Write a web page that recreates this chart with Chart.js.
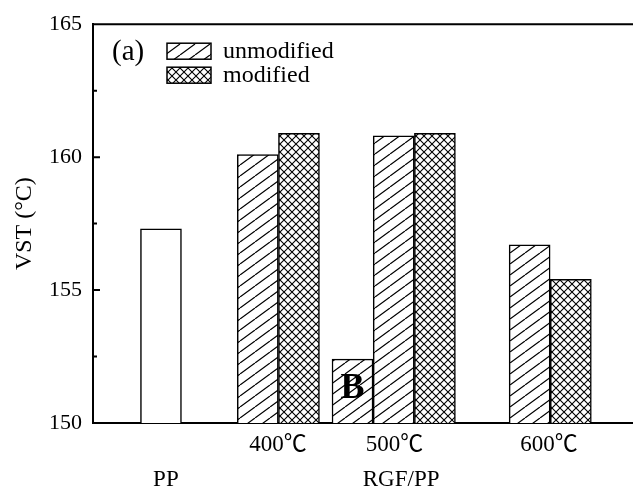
<!DOCTYPE html>
<html>
<head>
<meta charset="utf-8">
<script src="https://cdn.jsdelivr.net/npm/chart.js@4.4.1/dist/chart.umd.min.js"></script>
<style>
  html, body { margin: 0; padding: 0; background: #fff; overflow: hidden; }
  #wrap { width: 633px; height: 491px; overflow: hidden; }
</style>
</head>
<body>
<div id="wrap"><canvas id="vstChart" width="680" height="491"></canvas></div>
<script>
// dữ liệu VST
const ppX = [1.65];
const ppValues = [157.3];
const unmodX = [4.0, 7.3, 10.6];
const unmodValues = [160.1, 160.8, 156.7];
const modX = [5.0, 8.3, 11.6];
const modValues = [160.9, 160.9, 155.4];
const bX = [6.3];
const bValues = [152.4];
const tickX = [1.77, 4.49, 7.32, 7.48, 11.07];
const tickLabels = [['', 'PP'], '400℃', '500℃', ['', 'RGF/PP'], '600℃'];

const SERIF = '"Liberation Serif", "Noto Sans CJK SC", serif';

// tạo pattern gạch chéo
function hatchPattern() {
  const c = document.createElement('canvas');
  c.width = 15; c.height = 11;
  const g = c.getContext('2d');
  g.fillStyle = '#fff';
  g.fillRect(0, 0, 15, 11);
  g.strokeStyle = '#000';
  g.lineWidth = 1.2;
  g.beginPath();
  g.moveTo(-15, 11); g.lineTo(0, 0);
  g.moveTo(0, 11); g.lineTo(15, 0);
  g.moveTo(15, 11); g.lineTo(30, 0);
  g.stroke();
  return g.createPattern(c, 'repeat');
}

function crossPattern() {
  const c = document.createElement('canvas');
  c.width = 8; c.height = 8;
  const g = c.getContext('2d');
  g.fillStyle = '#fff';
  g.fillRect(0, 0, 8, 8);
  g.strokeStyle = '#000';
  g.lineWidth = 1.1;
  g.beginPath();
  g.moveTo(0, 0); g.lineTo(8, 8);
  g.moveTo(0, 8); g.lineTo(8, 0);
  g.stroke();
  return g.createPattern(c, 'repeat');
}

const hatch = hatchPattern();
const hatchB = hatchPattern();
const cross = crossPattern();

const toPoints = (xs, ys) => xs.map((x, i) => ({ x: x, y: ys[i] }));

// vẽ khung trên, vạch chia trục y, chữ B và chú thích
const decorPlugin = {
  id: 'decor',
  afterDraw(chart) {
    const { ctx, chartArea: a, scales: { y } } = chart;
    ctx.save();
    ctx.strokeStyle = '#000';
    ctx.lineWidth = 2;
    ctx.beginPath();
    ctx.moveTo(a.left - 1, a.top);
    ctx.lineTo(a.right, a.top);
    y.ticks.forEach(t => {
      const py = y.getPixelForValue(t.value);
      const len = t.value % 5 === 0 ? 7 : 4;
      ctx.moveTo(a.left, py);
      ctx.lineTo(a.left + len, py);
    });
    ctx.stroke();

    const bBar = chart.getDatasetMeta(3).data[0];
    ctx.fillStyle = '#000';
    ctx.font = 'bold 36px ' + SERIF;
    ctx.textAlign = 'center';
    ctx.textBaseline = 'middle';
    ctx.fillText('B', bBar.x, (bBar.y + bBar.base) / 2 - 2);

    ctx.font = '29px ' + SERIF;
    ctx.textAlign = 'left';
    ctx.fillText('(a)', a.left + 19, a.top + 28);

    ctx.lineWidth = 1.5;
    const items = [
      { fill: hatch, text: 'unmodified', top: 19 },
      { fill: cross, text: 'modified', top: 43 }
    ];
    ctx.font = '24px ' + SERIF;
    ctx.textBaseline = 'alphabetic';
    items.forEach(it => {
      ctx.fillStyle = it.fill;
      ctx.fillRect(a.left + 74, a.top + it.top, 44, 16);
      ctx.strokeRect(a.left + 74, a.top + it.top, 44, 16);
      ctx.fillStyle = '#000';
      ctx.fillText(it.text, a.left + 130, a.top + it.top + 15);
    });
    ctx.restore();
  }
};

Chart.defaults.color = '#000';

const ctx = document.getElementById('vstChart').getContext('2d');
new Chart(ctx, {
  type: 'bar',
  data: {
    datasets: [
      { label: 'PP', data: toPoints(ppX, ppValues), backgroundColor: '#fff' },
      { label: 'unmodified', data: toPoints(unmodX, unmodValues), backgroundColor: hatch },
      { label: 'modified', data: toPoints(modX, modValues), backgroundColor: cross },
      { label: 'B', data: toPoints(bX, bValues), backgroundColor: hatchB }
    ]
  },
  options: {
    responsive: false,
    devicePixelRatio: 1,
    animation: false,
    layout: { padding: { top: 22, left: 0, right: 0, bottom: 0 } },
    datasets: {
      bar: {
        grouped: false,
        base: 150,
        barThickness: 41,
        borderColor: '#000',
        borderWidth: 1.5
      }
    },
    plugins: {
      legend: { display: false },
      tooltip: { enabled: false }
    },
    scales: {
      x: {
        type: 'linear',
        min: 0,
        max: 14.25,
        offset: false,
        grid: { display: false, drawTicks: false },
        border: { display: true, color: '#000', width: 2 },
        afterBuildTicks: scale => {
          scale.ticks = tickX.map(v => ({ value: v }));
        },
        afterFit: scale => { scale.height = 68; },
        ticks: {
          autoSkip: false,
          maxRotation: 0,
          minRotation: 0,
          padding: 5,
          font: { family: SERIF, size: 23, lineHeight: '34.5px' },
          callback: (value, index) => tickLabels[index]
        }
      },
      y: {
        min: 150,
        max: 165,
        grid: { display: false, drawTicks: false },
        border: { display: true, color: '#000', width: 2 },
        afterFit: scale => { scale.width = 93; },
        ticks: {
          stepSize: 2.5,
          padding: 11,
          font: { family: SERIF, size: 22 },
          callback: v => (v % 5 === 0 ? v : '')
        },
        title: {
          display: true,
          text: 'VST (°C)',
          font: { family: SERIF, size: 24 },
          padding: { top: 10 }
        }
      }
    }
  },
  plugins: [decorPlugin]
});
</script>
</body>
</html>
